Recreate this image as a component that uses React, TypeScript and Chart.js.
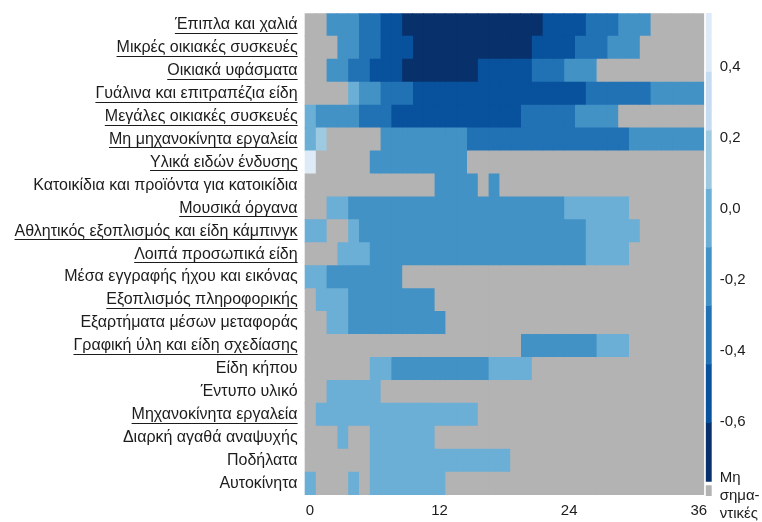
import React, { useEffect, useRef } from 'react';
import { Chart, registerables } from 'chart.js';

Chart.register(...registerables);

const _ = null;
const FONT = "'Liberation Sans', Arial, sans-serif";
const TEXT = '#1c1c1c';
const LABEL_SIZE = 16;
const TICK_SIZE = 15;

const ROW_LABELS = [
  'Έπιπλα και χαλιά',
  'Μικρές οικιακές συσκευές',
  'Οικιακά υφάσματα',
  'Γυάλινα και επιτραπέζια είδη',
  'Μεγάλες οικιακές συσκευές',
  'Μη μηχανοκίνητα εργαλεία',
  'Υλικά ειδών ένδυσης',
  'Κατοικίδια και προϊόντα για κατοικίδια',
  'Μουσικά όργανα',
  'Αθλητικός εξοπλισμός και είδη κάμπινγκ',
  'Λοιπά προσωπικά είδη',
  'Μέσα εγγραφής ήχου και εικόνας',
  'Εξοπλισμός πληροφορικής',
  'Εξαρτήματα μέσων μεταφοράς',
  'Γραφική ύλη και είδη σχεδίασης',
  'Είδη κήπου',
  'Έντυπο υλικό',
  'Μηχανοκίνητα εργαλεία',
  'Διαρκή αγαθά αναψυχής',
  'Ποδήλατα',
  'Αυτοκίνητα',
];

const UNDERLINED = [
  true, true, true, true, true, true, true, false, true, true, true,
  false, true, false, true, false, false, true, false, false, false,
];

const LAGS = [
  0, 1, 2, 3, 4, 5, 6, 7, 8, 9, 10, 11, 12, 13, 14, 15, 16, 17, 18,
  19, 20, 21, 22, 23, 24, 25, 26, 27, 28, 29, 30, 31, 32, 33, 34, 35, 36,
];
const X_TICKS = [0, 12, 24, 36];

// correlation per lag (null = not significant)
const EPIPLA = [
  _, _, -.19, -.19, -.19, -.35, -.35, -.52, -.52, -.68,
  -.68, -.68, -.68, -.68, -.68, -.68, -.68, -.68, -.68, -.68,
  -.68, -.68, -.52, -.52, -.52, -.52, -.35, -.35, -.35, -.19,
  -.19, -.19, _, _, _, _, _,
];
const MIKRES = [
  _, _, _, -.19, -.19, -.35, -.35, -.52, -.52, -.52,
  -.68, -.68, -.68, -.68, -.68, -.68, -.68, -.68, -.68, -.68,
  -.68, -.52, -.52, -.52, -.52, -.35, -.35, -.35, -.19, -.19,
  -.19, _, _, _, _, _, _,
];
const YFASMATA = [
  _, _, -.19, -.19, -.35, -.35, -.52, -.52, -.52, -.68,
  -.68, -.68, -.68, -.68, -.68, -.68, -.52, -.52, -.52, -.52,
  -.52, -.35, -.35, -.35, -.19, -.19, -.19, _, _, _,
  _, _, _, _, _, _, _,
];
const GYALINA = [
  _, _, _, _, -.03, -.19, -.19, -.35, -.35, -.35,
  -.52, -.52, -.52, -.52, -.52, -.52, -.52, -.52, -.52, -.52,
  -.52, -.52, -.52, -.52, -.52, -.52, -.35, -.35, -.35, -.35,
  -.35, -.35, -.19, -.19, -.19, -.19, -.19,
];
const MEGALES = [
  -.03, -.19, -.19, -.19, -.19, -.35, -.35, -.35, -.52, -.52,
  -.52, -.52, -.52, -.52, -.52, -.52, -.52, -.52, -.52, -.52,
  -.35, -.35, -.35, -.35, -.35, -.19, -.19, -.19, -.19, _,
  _, _, _, _, _, _, _,
];
const MH_MHX = [
  -.03, .14, _, _, _, _, _, -.19, -.19, -.19,
  -.19, -.19, -.19, -.19, -.19, -.35, -.35, -.35, -.35, -.35,
  -.35, -.35, -.35, -.35, -.35, -.35, -.35, -.35, -.35, -.35,
  -.19, -.19, -.19, -.19, -.19, -.19, -.19,
];
const YLIKA = [
  .45, _, _, _, _, _, -.19, -.19, -.19, -.19,
  -.19, -.19, -.19, -.19, -.19, _, _, _, _, _,
  _, _, _, _, _, _, _, _, _, _,
  _, _, _, _, _, _, _,
];
const KATOIKIDIA = [
  _, _, _, _, _, _, _, _, _, _,
  _, _, -.19, -.19, -.19, -.19, _, -.19, _, _,
  _, _, _, _, _, _, _, _, _, _,
  _, _, _, _, _, _, _,
];
const MOYSIKA = [
  _, _, -.03, -.03, -.19, -.19, -.19, -.19, -.19, -.19,
  -.19, -.19, -.19, -.19, -.19, -.19, -.19, -.19, -.19, -.19,
  -.19, -.19, -.19, -.19, -.03, -.03, -.03, -.03, -.03, -.03,
  _, _, _, _, _, _, _,
];
const ATHLITIKOS = [
  -.03, -.03, _, _, -.03, -.19, -.19, -.19, -.19, -.19,
  -.19, -.19, -.19, -.19, -.19, -.19, -.19, -.19, -.19, -.19,
  -.19, -.19, -.19, -.19, -.19, -.19, -.03, -.03, -.03, -.03,
  -.03, _, _, _, _, _, _,
];
const LOIPA = [
  _, _, _, -.03, -.03, -.03, -.19, -.19, -.19, -.19,
  -.19, -.19, -.19, -.19, -.19, -.19, -.19, -.19, -.19, -.19,
  -.19, -.19, -.19, -.19, -.19, -.19, -.03, -.03, -.03, -.03,
  _, _, _, _, _, _, _,
];
const MESA = [
  -.03, -.03, -.19, -.19, -.19, -.19, -.19, -.19, -.19, _,
  _, _, _, _, _, _, _, _, _, _,
  _, _, _, _, _, _, _, _, _, _,
  _, _, _, _, _, _, _,
];
const PLIROFORIKI = [
  _, -.03, -.03, -.03, -.19, -.19, -.19, -.19, -.19, -.19,
  -.19, -.19, _, _, _, _, _, _, _, _,
  _, _, _, _, _, _, _, _, _, _,
  _, _, _, _, _, _, _,
];
const EXARTIMATA = [
  _, _, -.03, -.03, -.19, -.19, -.19, -.19, -.19, -.19,
  -.19, -.19, -.19, _, _, _, _, _, _, _,
  _, _, _, _, _, _, _, _, _, _,
  _, _, _, _, _, _, _,
];
const GRAFIKI = [
  _, _, _, _, _, _, _, _, _, _,
  _, _, _, _, _, _, _, _, _, _,
  -.19, -.19, -.19, -.19, -.19, -.19, -.19, -.03, -.03, -.03,
  _, _, _, _, _, _, _,
];
const KIPOU = [
  _, _, _, _, _, _, -.03, -.03, -.19, -.19,
  -.19, -.19, -.19, -.19, -.19, -.19, -.19, -.03, -.03, -.03,
  -.03, _, _, _, _, _, _, _, _, _,
  _, _, _, _, _, _, _,
];
const ENTYPO = [
  _, _, -.03, -.03, -.03, -.03, -.03, _, _, _,
  _, _, _, _, _, _, _, _, _, _,
  _, _, _, _, _, _, _, _, _, _,
  _, _, _, _, _, _, _,
];
const MIXANOKINITA = [
  _, -.03, -.03, -.03, -.03, -.03, -.03, -.03, -.03, -.03,
  -.03, -.03, -.03, -.03, -.03, -.03, _, _, _, _,
  _, _, _, _, _, _, _, _, _, _,
  _, _, _, _, _, _, _,
];
const DIARKI = [
  _, _, _, -.03, _, _, -.03, -.03, -.03, -.03,
  -.03, -.03, _, _, _, _, _, _, _, _,
  _, _, _, _, _, _, _, _, _, _,
  _, _, _, _, _, _, _,
];
const PODILATA = [
  _, _, _, _, _, _, -.03, -.03, -.03, -.03,
  -.03, -.03, -.03, -.03, -.03, -.03, -.03, -.03, -.03, _,
  _, _, _, _, _, _, _, _, _, _,
  _, _, _, _, _, _, _,
];
const AYTOKINITA = [
  -.03, _, _, _, -.03, _, -.03, -.03, -.03, -.03,
  -.03, -.03, -.03, _, _, _, _, _, _, _,
  _, _, _, _, _, _, _, _, _, _,
  _, _, _, _, _, _, _,
];

const ROWS = [
  EPIPLA, MIKRES, YFASMATA, GYALINA, MEGALES, MH_MHX, YLIKA, KATOIKIDIA,
  MOYSIKA, ATHLITIKOS, LOIPA, MESA, PLIROFORIKI, EXARTIMATA, GRAFIKI,
  KIPOU, ENTYPO, MIXANOKINITA, DIARKI, PODILATA, AYTOKINITA,
];

// colour scale (top -> bottom)
const CB_BOUNDS = [0.55, 0.3855, 0.221, 0.0565, -0.108, -0.2725, -0.437, -0.6015, -0.766];
const CB_COLORS = ['#deebf7', '#c6dbef', '#9ecae1', '#6baed6', '#4292c6', '#2171b5', '#08519c', '#08306b'];
const CB_TICKS = [0.4, 0.2, 0, -0.2, -0.4, -0.6];
const NS_COLOR = '#b3b3b3';
const NS_BAND = [-0.806, -0.778];
const NS_LABEL = ['Μη', 'σημα-', 'ντικές'];
const NS_LABEL_AT = -0.807;

function colorFor(v: number | null): string {
  if (v === null || v === undefined) return NS_COLOR;
  for (let i = 0; i < CB_COLORS.length; i++) {
    if (v > CB_BOUNDS[i + 1]) return CB_COLORS[i];
  }
  return CB_COLORS[CB_COLORS.length - 1];
}

const underlinePlugin = {
  id: 'underlineLabels',
  afterDraw(chart: any) {
    const s = chart.scales.y;
    const ctx = chart.ctx;
    ctx.save();
    ctx.font = `${LABEL_SIZE}px ${FONT}`;
    ctx.strokeStyle = TEXT;
    ctx.lineWidth = 1;
    const right = chart.chartArea.left - 7;
    ROW_LABELS.forEach((lab, i) => {
      if (!UNDERLINED[i]) return;
      const y = Math.round(s.getPixelForTick(i) + 8) + 0.5;
      const w = ctx.measureText(lab).width;
      ctx.beginPath();
      ctx.moveTo(right - w, y);
      ctx.lineTo(right, y);
      ctx.stroke();
    });
    ctx.restore();
  },
};

export default function App() {
  const mainRef = useRef<HTMLCanvasElement | null>(null);
  const cbRef = useRef<HTMLCanvasElement | null>(null);

  useEffect(() => {
    const main = new Chart(mainRef.current as HTMLCanvasElement, {
      type: 'bar',
      data: {
        labels: ROW_LABELS,
        datasets: LAGS.map((lag) => ({
          data: ROWS.map(() => [lag - 0.5, lag + 0.5]),
          backgroundColor: ROWS.map((row) => colorFor(row[lag])),
          borderWidth: 0,
          grouped: false,
          categoryPercentage: 1,
          barPercentage: 1,
          inflateAmount: 0.4,
        })) as any,
      },
      options: {
        indexAxis: 'y',
        responsive: false,
        animation: false,
        layout: { padding: { left: 0, right: 57.8, top: 13.3, bottom: 0 } },
        plugins: { legend: { display: false }, tooltip: { enabled: false } },
        scales: {
          x: {
            type: 'linear',
            min: -0.5,
            max: 36.5,
            grid: { display: false, drawTicks: false },
            border: { display: false },
            ticks: { font: { family: FONT, size: TICK_SIZE }, color: TEXT, padding: 7, maxRotation: 0 },
            afterBuildTicks: (s: any) => {
              s.ticks = X_TICKS.map((v) => ({ value: v }));
            },
            afterFit: (s: any) => {
              s.height = 27;
              s.paddingLeft = 0;
              s.paddingRight = 0;
            },
          },
          y: {
            type: 'category',
            grid: { display: false, drawTicks: false },
            border: { display: false },
            ticks: { font: { family: FONT, size: LABEL_SIZE }, color: TEXT, padding: 7, autoSkip: false },
            afterFit: (s: any) => {
              s.width = 304.6;
              s.paddingTop = 0;
              s.paddingBottom = 0;
            },
          },
        },
      } as any,
      plugins: [underlinePlugin],
    });

    const cbDatasets: any[] = CB_COLORS.map((c, i) => ({
      data: [[CB_BOUNDS[i + 1], CB_BOUNDS[i]]],
      backgroundColor: c,
      borderWidth: 0,
      grouped: false,
      categoryPercentage: 1,
      barPercentage: 1,
      inflateAmount: 0.3,
    }));
    cbDatasets.push({
      data: [NS_BAND],
      backgroundColor: NS_COLOR,
      borderWidth: 0,
      grouped: false,
      categoryPercentage: 1,
      barPercentage: 1,
    });

    const cb = new Chart(cbRef.current as HTMLCanvasElement, {
      type: 'bar',
      data: { labels: [''], datasets: cbDatasets },
      options: {
        responsive: false,
        animation: false,
        layout: { padding: { left: 5.7, right: 0, top: 13, bottom: 25 } },
        plugins: { legend: { display: false }, tooltip: { enabled: false } },
        scales: {
          x: { display: false },
          y: {
            type: 'linear',
            position: 'right',
            min: -0.81,
            max: 0.55,
            grid: { display: false, drawTicks: false },
            border: { display: false },
            ticks: {
              font: { family: FONT, size: TICK_SIZE },
              color: TEXT,
              padding: 8,
              callback: (v: any) => {
                if (Math.abs(v - NS_LABEL_AT) < 1e-6) return NS_LABEL;
                return (Math.round(v * 10) / 10).toFixed(1).replace('.', ',');
              },
            },
            afterBuildTicks: (s: any) => {
              s.ticks = [NS_LABEL_AT, ...CB_TICKS.slice().reverse()].map((v) => ({ value: v }));
            },
            afterFit: (s: any) => {
              s.width = 50.3;
              s.paddingTop = 0;
              s.paddingBottom = 0;
            },
          },
        },
      } as any,
    });

    return () => {
      main.destroy();
      cb.destroy();
    };
  }, []);

  return (
    <div style={{ position: 'absolute', left: 0, top: 0, width: 762, height: 522, background: '#fff' }}>
      <canvas ref={mainRef} width={762} height={522} style={{ position: 'absolute', left: 0, top: 0 }} />
      <canvas ref={cbRef} width={62} height={522} style={{ position: 'absolute', left: 700, top: 0 }} />
    </div>
  );
}
